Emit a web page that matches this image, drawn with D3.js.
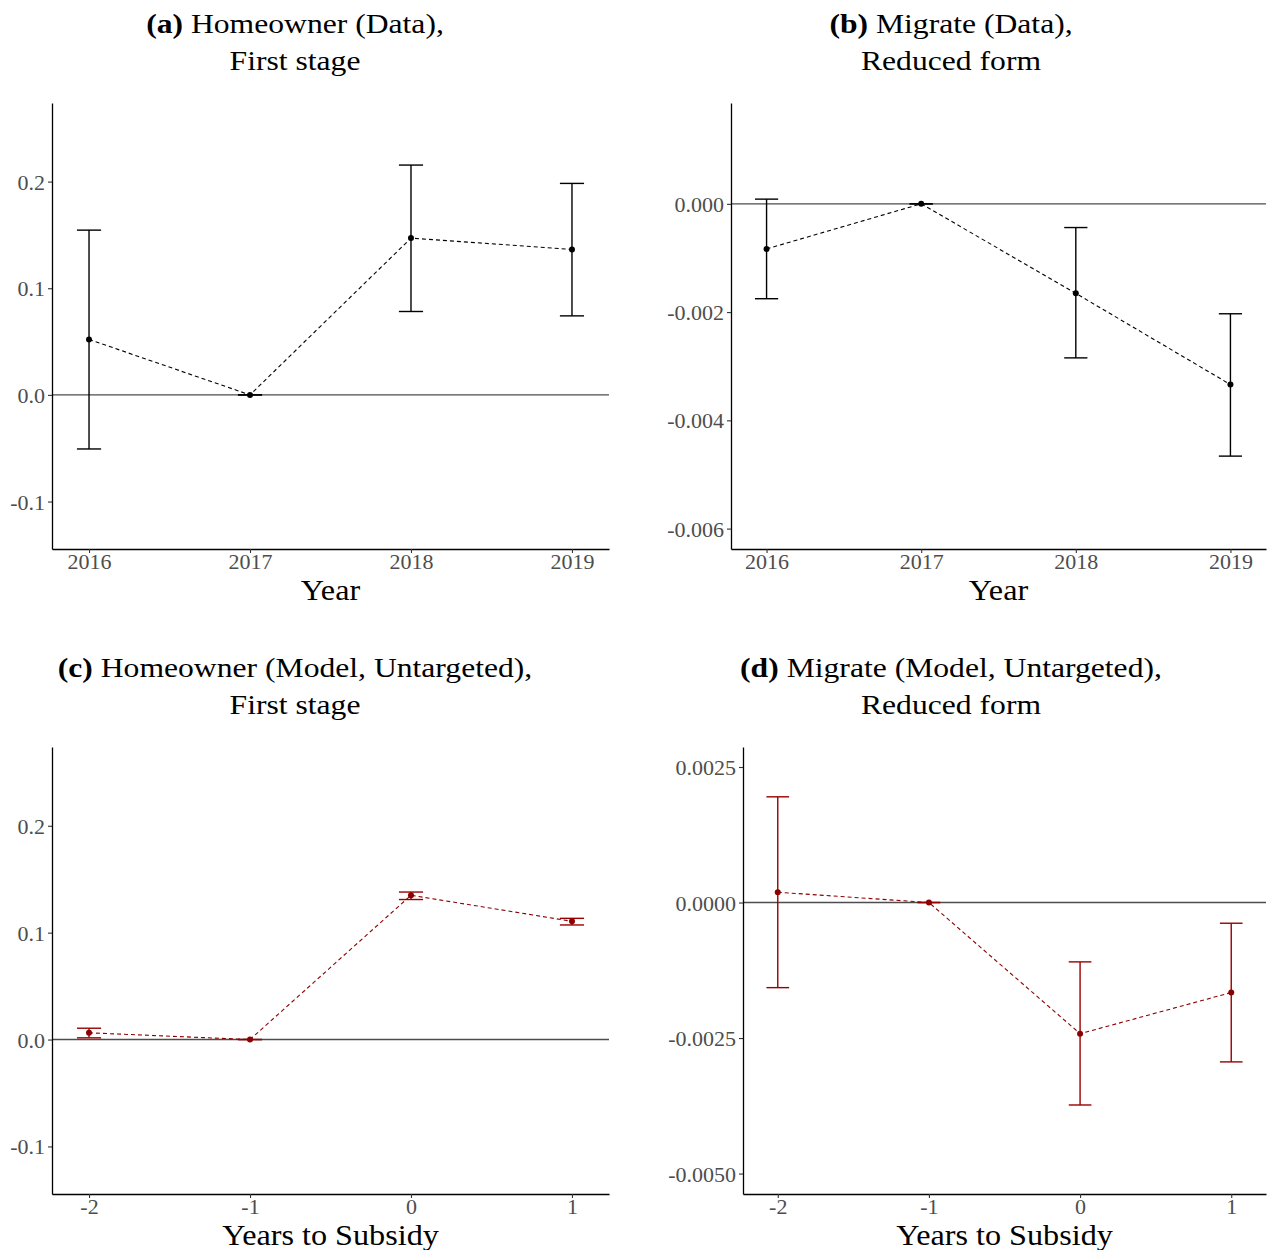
<!DOCTYPE html>
<html><head><meta charset="utf-8">
<script src="https://cdn.jsdelivr.net/npm/d3@7"></script>
<style>
body{margin:0;background:#fff;}
svg{display:block;}
</style></head>
<body>
<svg id="chart" width="1271" height="1250"></svg>
<script>
// ---------------- data ----------------
const yearsData  = ["2016", "2017", "2018", "2019"];
const yearsModel = ["-2", "-1", "0", "1"];

const homeDataEst = [0.052, 0, 0.147, 0.1364];
const homeDataLo  = [-0.0507, 0, 0.0782, 0.0741];
const homeDataHi  = [0.1545, 0, 0.2155, 0.1983];

const migDataEst = [-0.000833, 0, -0.001654, -0.003339];
const migDataLo  = [-0.001753, 0, -0.002846, -0.004661];
const migDataHi  = [0.000087, 0, -0.000438, -0.002031];

const homeModelEst = [0.0063, 0, 0.135, 0.1106];
const homeModelLo  = [0.0016, 0, 0.131, 0.1072];
const homeModelHi  = [0.0106, 0, 0.138, 0.1134];

const migModelEst = [0.00019, 0, -0.00242, -0.00166];
const migModelLo  = [-0.00157, 0, -0.003735, -0.00294];
const migModelHi  = [0.00195, 0, -0.001095, -0.000382];

const homeTicks = [-0.1, 0, 0.1, 0.2];
const homeTickLabels = ["-0.1", "0.0", "0.1", "0.2"];
const migDataTicks = [-0.006, -0.004, -0.002, 0];
const migDataTickLabels = ["-0.006", "-0.004", "-0.002", "0.000"];
const migModelTicks = [-0.005, -0.0025, 0, 0.0025];
const migModelTickLabels = ["-0.0050", "-0.0025", "0.0000", "0.0025"];

const homeLimits = [-0.1445, 0.2737];
const migDataLimits = [-0.006377, 0.001863];
const migModelLimits = [-0.005377, 0.002869];

const titlesBold = ["(a)", "(b)", "(c)", "(d)"];
const titlesLine1 = [" Homeowner (Data),", " Migrate (Data),", " Homeowner (Model, Untargeted),", " Migrate (Model, Untargeted),"];
const titlesLine2 = ["First stage", "Reduced form", "First stage", "Reduced form"];
const xTitles = ["Year", "Year", "Years to Subsidy", "Years to Subsidy"];

// ---------------- layout ----------------
const panels = [
  {l:52,  r:609,  t:103, b:549,  tx:295, cats:yearsData,  est:homeDataEst,  lo:homeDataLo,  hi:homeDataHi,  ticks:homeTicks,     tl:homeTickLabels,     lim:homeLimits,     col:"#000000", ecol:"#000000"},
  {l:731, r:1266, t:103, b:549,  tx:951, cats:yearsData,  est:migDataEst,   lo:migDataLo,   hi:migDataHi,   ticks:migDataTicks,  tl:migDataTickLabels,  lim:migDataLimits,  col:"#000000", ecol:"#000000"},
  {l:52,  r:609,  t:747, b:1194, tx:295, cats:yearsModel, est:homeModelEst, lo:homeModelLo, hi:homeModelHi, ticks:homeTicks,     tl:homeTickLabels,     lim:homeLimits,     col:"#8B0000", ecol:"#990000"},
  {l:743, r:1266, t:747, b:1194, tx:951, cats:yearsModel, est:migModelEst,  lo:migModelLo,  hi:migModelHi,  ticks:migModelTicks, tl:migModelTickLabels, lim:migModelLimits, col:"#8B0000", ecol:"#990000"}
];

const svg = d3.select("#chart");
const serif = "'Liberation Serif', 'DejaVu Serif', serif";
const capHalf = 0.075; // half error-bar width in category units

panels.forEach((p, k) => {
  const n = p.cats.length;
  const x = d3.scaleLinear().domain([-0.23, n - 1 + 0.23]).range([p.l, p.r]);
  const y = d3.scaleLinear().domain(p.lim).range([p.b, p.t]);
  const g = svg.append("g");

  // zero reference line
  g.append("line")
    .attr("x1", p.l).attr("x2", p.r)
    .attr("y1", y(0)).attr("y2", y(0))
    .attr("stroke", "#4d4d4d").attr("stroke-width", 1.4);

  // axes
  const yAxis = g.append("g").attr("transform", `translate(${p.l},0)`)
    .call(d3.axisLeft(y).tickValues(p.ticks).tickFormat((d, i) => p.tl[i]).tickSizeOuter(0).tickSizeInner(4).tickPadding(3));
  const xAxis = g.append("g").attr("transform", `translate(0,${p.b})`)
    .call(d3.axisBottom(x).tickValues(d3.range(n)).tickFormat(i => p.cats[i]).tickSizeOuter(0).tickSizeInner(4).tickPadding(4));
  [yAxis, xAxis].forEach(a => {
    a.select(".domain").attr("stroke", "#000").attr("stroke-width", 1.3);
    a.selectAll(".tick line").attr("stroke", "#333").attr("stroke-width", 1.1);
    a.selectAll(".tick text").attr("fill", "#4d4d4d").style("font-family", serif).style("font-size", "22px");
  });
  xAxis.selectAll(".tick text").attr("y", 20).attr("dy", 0);
  yAxis.selectAll(".tick text").attr("dy", "0.34em");

  const idx = d3.range(n);

  // error bars
  const eb = g.append("g").attr("stroke", p.ecol).attr("stroke-width", 1.4).attr("fill", "none");
  idx.forEach(i => {
    eb.append("line").attr("x1", x(i)).attr("x2", x(i)).attr("y1", y(p.lo[i])).attr("y2", y(p.hi[i]));
    eb.append("line").attr("x1", x(i - capHalf)).attr("x2", x(i + capHalf)).attr("y1", y(p.lo[i])).attr("y2", y(p.lo[i]));
    eb.append("line").attr("x1", x(i - capHalf)).attr("x2", x(i + capHalf)).attr("y1", y(p.hi[i])).attr("y2", y(p.hi[i]));
  });

  // dashed connecting line
  g.append("path")
    .datum(idx)
    .attr("d", d3.line().x(i => x(i)).y(i => y(p.est[i])))
    .attr("fill", "none").attr("stroke", p.col).attr("stroke-width", 1.1)
    .attr("stroke-dasharray", "4,3");

  // points
  g.selectAll("circle.pt").data(idx).join("circle")
    .attr("cx", i => x(i)).attr("cy", i => y(p.est[i])).attr("r", 3)
    .attr("fill", p.col);

  // x axis title
  g.append("text")
    .attr("transform", `translate(${(p.l + p.r) / 2},${p.b + 50.5}) scale(1.13,1)`)
    .attr("text-anchor", "middle")
    .style("font-family", serif).style("font-size", "28.5px").attr("fill", "#000")
    .text(xTitles[k]);

  // panel title
  const t1 = g.append("text")
    .attr("transform", `translate(${p.tx},${p.t - 70}) scale(1.13,1)`)
    .attr("text-anchor", "middle")
    .style("font-family", serif).style("font-size", "28px").attr("fill", "#000");
  t1.append("tspan").style("font-weight", "bold").text(titlesBold[k]);
  t1.append("tspan").text(titlesLine1[k]);
  g.append("text")
    .attr("transform", `translate(${p.tx},${p.t - 33}) scale(1.13,1)`)
    .attr("text-anchor", "middle")
    .style("font-family", serif).style("font-size", "28px").attr("fill", "#000")
    .text(titlesLine2[k]);
});
</script>
</body></html>
